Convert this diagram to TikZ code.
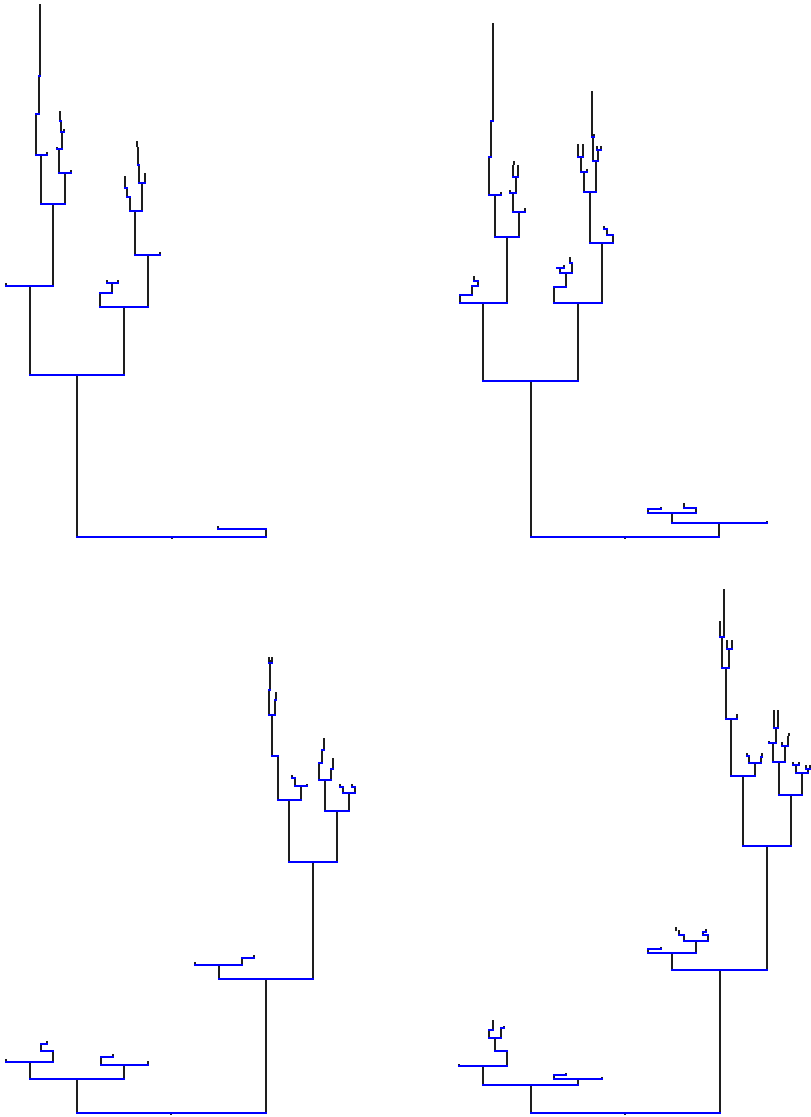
\documentclass[tikz,border=0pt]{standalone}
\definecolor{treestem}{RGB}{30,30,30}
\definecolor{treebar}{RGB}{0,0,255}
\tikzset{
  stem/.style={draw=treestem, line width=1.4pt, line cap=butt},
  tuft/.style={draw=treestem, line width=2.4pt, line cap=butt},
  bar/.style={draw=treebar, line width=1.7pt, line cap=rect}
}
\begin{document}
\begin{tikzpicture}
% Four random binary trees, pixel grid (y grows downwards)
\begin{scope}[x=1pt, y=-1pt]
  \useasboundingbox (0,0) rectangle (811,1117);
  % ---------------- Top left tree ----------------
  % Vertical stems
  \draw[stem]
    (77,537) -- (77,375)
    (172,537) -- (172,539)
    (30,375) -- (30,286)
    (6,286) -- (6,283)
    (53,286) -- (53,204)
    (41,204) -- (41,155)
    (47,155) -- (47,152)
    (36,155) -- (36,114)
    (39,114) -- (39,76)
    (40,76) -- (40,43)
    (40,20) -- (40,4)
    (65,204) -- (65,173)
    (71,173) -- (71,170)
    (59,173) -- (59,149)
    (57,149) -- (57,147)
    (62,149) -- (62,132)
    (64,132) -- (64,129)
    (61,132) -- (61,121)
    (60,121) -- (60,111)
    (124,375) -- (124,307)
    (100,307) -- (100,293)
    (112,293) -- (112,283)
    (107,283) -- (107,280)
    (118,283) -- (118,280)
    (148,307) -- (148,255)
    (160,255) -- (160,252)
    (135,255) -- (135,211)
    (130,211) -- (130,197)
    (127,197) -- (127,188)
    (125,188) -- (125,176)
    (142,211) -- (142,183)
    (145,183) -- (145,173)
    (139,183) -- (139,165)
    (138,165) -- (138,147)
    (137,147) -- (137,141)
    (266,537) -- (266,529)
    (218,529) -- (218,526);
  \draw[tuft] (40,43) -- (40,20);
  % Horizontal bars
  \draw[bar]
    (77,537) -- (266,537)
    (30,375) -- (124,375)
    (6,286) -- (53,286)
    (41,204) -- (65,204)
    (36,155) -- (47,155)
    (36,114) -- (39,114)
    (39,76) -- (40,76)
    (59,173) -- (71,173)
    (57,149) -- (62,149)
    (61,132) -- (64,132)
    (60,121) -- (61,121)
    (100,307) -- (148,307)
    (100,293) -- (112,293)
    (107,283) -- (118,283)
    (135,255) -- (160,255)
    (130,211) -- (142,211)
    (127,197) -- (130,197)
    (125,188) -- (127,188)
    (139,183) -- (145,183)
    (138,165) -- (139,165)
    (218,529) -- (266,529);
  % ---------------- Top right tree ----------------
  % Vertical stems
  \draw[stem]
    (531,537) -- (531,381)
    (625,537) -- (625,539)
    (483,381) -- (483,303)
    (460,303) -- (460,295)
    (472,295) -- (472,286)
    (478,286) -- (478,281)
    (474,281) -- (474,276)
    (507,303) -- (507,237)
    (495,237) -- (495,195)
    (501,195) -- (501,192)
    (489,195) -- (489,157)
    (491,157) -- (491,121)
    (493,121) -- (493,88)
    (493,67) -- (493,23)
    (519,237) -- (519,212)
    (525,212) -- (525,208)
    (513,212) -- (513,193)
    (510,193) -- (510,190)
    (516,193) -- (516,177)
    (513,177) -- (513,165)
    (518,177) -- (518,165)
    (514,165) -- (514,161)
    (578,381) -- (578,303)
    (554,303) -- (554,287)
    (566,287) -- (566,273)
    (560,273) -- (560,268)
    (564,268) -- (564,265)
    (572,273) -- (572,263)
    (570,263) -- (570,257)
    (602,303) -- (602,243)
    (613,243) -- (613,235)
    (607,235) -- (607,229)
    (604,229) -- (604,226)
    (590,243) -- (590,192)
    (584,192) -- (584,172)
    (587,172) -- (587,169)
    (581,172) -- (581,157)
    (578,157) -- (578,144)
    (583,157) -- (583,144)
    (596,192) -- (596,161)
    (593,161) -- (593,137)
    (594,137) -- (594,134)
    (592,137) -- (592,91)
    (598,161) -- (598,150)
    (597,150) -- (597,146)
    (601,150) -- (601,146)
    (719,537) -- (719,523)
    (767,523) -- (767,521)
    (672,523) -- (672,513)
    (648,513) -- (648,509)
    (661,509) -- (661,507)
    (696,513) -- (696,508)
    (684,508) -- (684,503);
  \draw[tuft] (493,88) -- (493,67);
  % Horizontal bars
  \draw[bar]
    (531,537) -- (719,537)
    (483,381) -- (578,381)
    (460,303) -- (507,303)
    (460,295) -- (472,295)
    (472,286) -- (478,286)
    (474,281) -- (478,281)
    (495,237) -- (519,237)
    (489,195) -- (501,195)
    (489,157) -- (491,157)
    (491,121) -- (493,121)
    (513,212) -- (525,212)
    (510,193) -- (516,193)
    (513,177) -- (518,177)
    (554,303) -- (602,303)
    (554,287) -- (566,287)
    (560,273) -- (572,273)
    (557,268) -- (564,268)
    (570,263) -- (572,263)
    (590,243) -- (613,243)
    (607,235) -- (613,235)
    (604,229) -- (607,229)
    (584,192) -- (596,192)
    (581,172) -- (587,172)
    (578,157) -- (583,157)
    (593,161) -- (598,161)
    (592,137) -- (594,137)
    (597,150) -- (601,150)
    (672,523) -- (767,523)
    (648,513) -- (696,513)
    (648,509) -- (661,509)
    (684,508) -- (696,508);
  % ---------------- Bottom left tree ----------------
  % Vertical stems
  \draw[stem]
    (77,1113) -- (77,1079)
    (171,1113) -- (171,1115)
    (30,1079) -- (30,1062)
    (6,1062) -- (6,1059)
    (53,1062) -- (53,1051)
    (41,1051) -- (41,1044)
    (47,1044) -- (47,1041)
    (124,1079) -- (124,1065)
    (148,1065) -- (148,1061)
    (101,1065) -- (101,1057)
    (113,1057) -- (113,1054)
    (266,1113) -- (266,979)
    (219,979) -- (219,965)
    (195,965) -- (195,962)
    (242,965) -- (242,958)
    (254,958) -- (254,955)
    (313,979) -- (313,862)
    (289,862) -- (289,800)
    (278,800) -- (278,756)
    (272,756) -- (272,715)
    (269,715) -- (269,690)
    (270,690) -- (270,673)
    (269,663) -- (269,657)
    (272,663) -- (272,657)
    (275,715) -- (275,700)
    (276,700) -- (276,692)
    (301,800) -- (301,786)
    (307,786) -- (307,784)
    (295,786) -- (295,778)
    (292,778) -- (292,775)
    (337,862) -- (337,811)
    (325,811) -- (325,780)
    (319,780) -- (319,763)
    (322,763) -- (322,750)
    (324,750) -- (324,738)
    (331,780) -- (331,769)
    (333,769) -- (333,758)
    (349,811) -- (349,793)
    (343,793) -- (343,787)
    (340,787) -- (340,784)
    (355,793) -- (355,787)
    (352,787) -- (352,784);
  \draw[tuft] (270,673) -- (270,660);
  % Horizontal bars
  \draw[bar]
    (77,1113) -- (266,1113)
    (30,1079) -- (124,1079)
    (6,1062) -- (53,1062)
    (41,1051) -- (53,1051)
    (41,1044) -- (47,1044)
    (101,1065) -- (148,1065)
    (101,1057) -- (113,1057)
    (219,979) -- (313,979)
    (195,965) -- (242,965)
    (242,958) -- (254,958)
    (289,862) -- (337,862)
    (278,800) -- (301,800)
    (272,756) -- (278,756)
    (269,715) -- (275,715)
    (269,690) -- (270,690)
    (269,663) -- (272,663)
    (275,700) -- (276,700)
    (295,786) -- (307,786)
    (292,778) -- (295,778)
    (325,811) -- (349,811)
    (319,780) -- (331,780)
    (319,763) -- (322,763)
    (322,750) -- (324,750)
    (331,769) -- (333,769)
    (343,793) -- (355,793)
    (340,787) -- (343,787)
    (352,787) -- (355,787);
  % ---------------- Bottom right tree ----------------
  % Vertical stems
  \draw[stem]
    (531,1113) -- (531,1085)
    (625,1113) -- (625,1115)
    (483,1085) -- (483,1066)
    (459,1066) -- (459,1064)
    (507,1066) -- (507,1051)
    (495,1051) -- (495,1038)
    (489,1038) -- (489,1030)
    (493,1030) -- (493,1020)
    (501,1038) -- (501,1028)
    (504,1028) -- (504,1026)
    (578,1085) -- (578,1079)
    (602,1079) -- (602,1077)
    (554,1079) -- (554,1075)
    (566,1075) -- (566,1073)
    (720,1113) -- (720,970)
    (672,970) -- (672,953)
    (648,953) -- (648,949)
    (661,949) -- (661,947)
    (696,953) -- (696,941)
    (684,941) -- (684,935)
    (679,935) -- (679,930)
    (676,931) -- (676,927)
    (708,941) -- (708,935)
    (703,935) -- (703,932)
    (706,932) -- (706,929)
    (767,970) -- (767,846)
    (743,846) -- (743,776)
    (731,776) -- (731,719)
    (726,719) -- (726,668)
    (722,668) -- (722,637)
    (720,637) -- (720,621)
    (724,637) -- (724,613)
    (724,597) -- (724,589)
    (729,668) -- (729,649)
    (727,649) -- (727,640)
    (732,649) -- (732,640)
    (737,719) -- (737,714)
    (755,776) -- (755,763)
    (749,763) -- (749,756)
    (747,756) -- (747,753)
    (761,763) -- (761,757)
    (762,757) -- (762,753)
    (791,846) -- (791,795)
    (779,795) -- (779,762)
    (773,762) -- (773,743)
    (769,743) -- (769,741)
    (776,743) -- (776,728)
    (774,728) -- (774,710)
    (778,728) -- (778,710)
    (785,762) -- (785,746)
    (782,746) -- (782,742)
    (788,746) -- (788,736)
    (789,736) -- (789,733)
    (802,795) -- (802,773)
    (796,773) -- (796,765)
    (793,765) -- (793,762)
    (799,765) -- (799,762)
    (808,773) -- (808,769)
    (806,769) -- (806,765)
    (810,769) -- (810,765);
  \draw[tuft] (724,613) -- (724,597);
  % Horizontal bars
  \draw[bar]
    (531,1113) -- (720,1113)
    (483,1085) -- (578,1085)
    (459,1066) -- (507,1066)
    (495,1051) -- (507,1051)
    (489,1038) -- (501,1038)
    (489,1030) -- (493,1030)
    (501,1028) -- (504,1028)
    (554,1079) -- (602,1079)
    (554,1075) -- (566,1075)
    (672,970) -- (767,970)
    (648,953) -- (696,953)
    (648,949) -- (661,949)
    (684,941) -- (708,941)
    (679,935) -- (684,935)
    (703,935) -- (708,935)
    (703,932) -- (706,932)
    (743,846) -- (791,846)
    (731,776) -- (755,776)
    (726,719) -- (737,719)
    (722,668) -- (729,668)
    (720,637) -- (724,637)
    (727,649) -- (732,649)
    (749,763) -- (761,763)
    (747,756) -- (749,756)
    (761,757) -- (762,757)
    (779,795) -- (802,795)
    (773,762) -- (785,762)
    (769,743) -- (776,743)
    (774,728) -- (778,728)
    (782,746) -- (788,746)
    (796,773) -- (808,773)
    (793,765) -- (799,765)
    (806,769) -- (810,769);
\end{scope}
\end{tikzpicture}
\end{document}
